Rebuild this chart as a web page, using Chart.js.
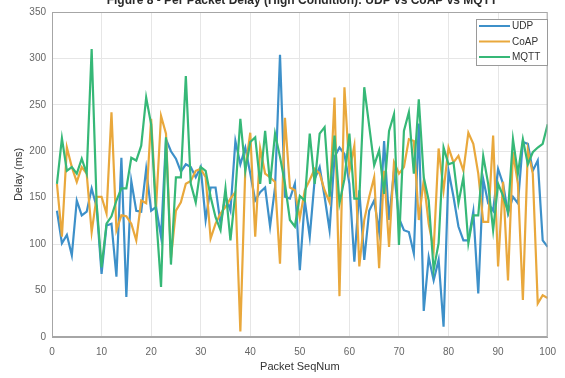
<!DOCTYPE html>
<html>
<head>
<meta charset="utf-8">
<script src="https://cdn.jsdelivr.net/npm/chart.js@4.4.0/dist/chart.umd.min.js"></script>
<style>
  html, body { margin: 0; padding: 0; background: #fff; }
  #wrap { width: 565px; height: 378px; position: relative; }
</style>
</head>
<body>
<div id="wrap"><canvas id="delayChart"></canvas></div>
<script>
const seqNum = Array.from({ length: 100 }, (_, i) => i + 1);

const udpDelay = [136, 101, 110, 88, 147, 131, 135, 160, 140, 68, 120, 122, 65, 193, 43, 168, 136, 135, 181, 136,
  140, 108, 213, 200, 192, 178, 186, 183, 172, 183, 126, 161, 161, 122, 152, 136, 211, 186, 204, 176,
  147, 156, 161, 119, 161, 304, 151, 149, 165, 72, 147, 108, 170, 183, 151, 115, 194, 204, 197, 165,
  81, 158, 83, 136, 147, 113, 211, 126, 179, 128, 115, 113, 90, 230, 28, 86, 61, 83, 11, 179,
  151, 119, 104, 104, 135, 47, 170, 144, 136, 181, 165, 133, 151, 144, 210, 208, 179, 190, 104, 97];

const coapDelay = [165, 108, 204, 183, 167, 183, 176, 113, 151, 151, 133, 242, 115, 131, 130, 122, 104, 147, 144, 235,
  140, 238, 219, 85, 136, 145, 165, 168, 179, 181, 172, 106, 122, 133, 140, 149, 156, 6, 181, 220,
  108, 203, 176, 172, 167, 79, 236, 161, 158, 128, 158, 169, 181, 176, 158, 145, 258, 44, 269, 179,
  206, 76, 126, 151, 172, 74, 179, 97, 188, 176, 183, 213, 211, 126, 169, 122, 94, 203, 158, 204,
  188, 195, 179, 220, 208, 176, 124, 124, 217, 76, 167, 61, 199, 165, 40, 201, 176, 36, 45, 42];

const mqttDelay = [165, 214, 179, 183, 176, 192, 176, 310, 144, 75, 122, 130, 147, 160, 160, 193, 190, 206, 258, 229,
  131, 54, 215, 78, 172, 172, 281, 165, 145, 183, 179, 151, 129, 115, 160, 104, 156, 235, 179, 210,
  215, 165, 222, 165, 219, 194, 165, 126, 119, 152, 147, 219, 165, 219, 226, 151, 217, 144, 170, 219,
  149, 149, 269, 227, 185, 201, 154, 222, 240, 99, 222, 242, 176, 256, 172, 147, 72, 101, 204, 186,
  188, 144, 172, 101, 131, 131, 195, 165, 115, 165, 152, 135, 213, 176, 213, 186, 199, 204, 208, 229];

const seriesNames = ['UDP', 'CoAP', 'MQTT'];
const seriesColors = ['#3d90c9', '#e9a83c', '#36b877'];
const chartTitle = 'Figure 8 - Per Packet Delay (High Condition): UDP vs CoAP vs MQTT';

const FONT = "'Liberation Sans', Arial, sans-serif";

// title (clipped at the top like the source image), box outline and legend
const decor = {
  id: 'decor',
  afterDraw(chart) {
    const { ctx, chartArea: a } = chart;
    ctx.save();
    ctx.strokeStyle = '#a6a6a6';
    ctx.lineWidth = 1;
    ctx.strokeRect(a.left + 0.5, a.top + 0.5, a.right - a.left - 1, a.bottom - a.top - 1);

    ctx.fillStyle = '#2a2a2a';
    ctx.font = 'bold 12px ' + FONT;
    ctx.textAlign = 'center';
    ctx.textBaseline = 'alphabetic';
    ctx.fillText(chartTitle, 302, 4);

    const bx = 476, by = 19, bw = 71, bh = 46;
    ctx.fillStyle = '#fff';
    ctx.fillRect(bx, by, bw, bh);
    ctx.strokeStyle = '#9a9a9a';
    ctx.strokeRect(bx + 0.5, by + 0.5, bw, bh);
    ctx.font = '10px ' + FONT;
    ctx.textAlign = 'left';
    ctx.textBaseline = 'middle';
    seriesNames.forEach((name, i) => {
      const y = by + 7 + i * 15.5;
      ctx.strokeStyle = seriesColors[i];
      ctx.lineWidth = 2;
      ctx.beginPath();
      ctx.moveTo(bx + 3, y);
      ctx.lineTo(bx + 34, y);
      ctx.stroke();
      ctx.fillStyle = '#333';
      ctx.fillText(name, bx + 36, y + 0.5);
    });
    ctx.restore();
  }
};

const ds = (label, data, i) => ({
  label, data: data.map((v, k) => ({ x: seqNum[k], y: v })),
  borderColor: seriesColors[i], backgroundColor: seriesColors[i],
  borderWidth: 2.2, pointRadius: 0, tension: 0, order: 2 - i
});

new Chart(document.getElementById('delayChart'), {
  type: 'line',
  data: {
    datasets: [ds('UDP', udpDelay, 0), ds('CoAP', coapDelay, 1), ds('MQTT', mqttDelay, 2)]
  },
  options: {
    responsive: true,
    maintainAspectRatio: false,
    animation: false,
    layout: { padding: { top: 12, right: 10, left: 0, bottom: 0 } },
    plugins: { legend: { display: false }, title: { display: false }, tooltip: { enabled: false } },
    scales: {
      x: {
        type: 'linear', min: 0, max: 100,
        ticks: { stepSize: 10, color: '#666', font: { family: FONT, size: 10 }, padding: 9, maxRotation: 0 },
        grid: { color: '#e6e6e6', drawTicks: false },
        border: { color: '#a6a6a6' },
        title: { display: true, text: 'Packet SeqNum', color: '#333', font: { family: FONT, size: 11 }, padding: { top: 0, bottom: 4 } },
        afterFit(s) { s.height = 41; }
      },
      y: {
        min: 0, max: 350,
        ticks: { stepSize: 50, color: '#666', font: { family: FONT, size: 10 }, padding: 6 },
        grid: { color: '#e6e6e6', drawTicks: false },
        border: { color: '#a6a6a6' },
        title: { display: true, text: 'Delay (ms)', color: '#333', font: { family: FONT, size: 11 }, padding: { top: 12, bottom: 0 } },
        afterFit(s) { s.width = 52; }
      }
    }
  },
  plugins: [decor]
});
</script>
</body>
</html>
